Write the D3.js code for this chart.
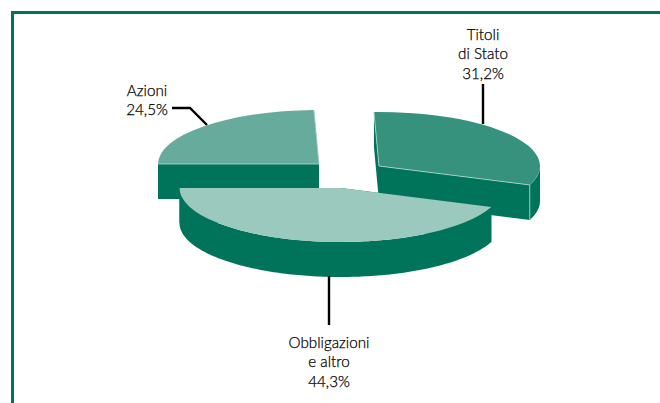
<!DOCTYPE html>
<html>
<head>
<meta charset="utf-8">
<script src="https://cdnjs.cloudflare.com/ajax/libs/d3/7.8.5/d3.min.js"></script>
<style>
	html, body { margin: 0; padding: 0; background: #fff; overflow: hidden; }
	svg { display: block; }
	text { font-family: Lato, sans-serif; font-size: 15.2px; font-weight: 300; fill: #000; stroke: #000; stroke-width: 0.25px; text-anchor: middle; }
</style>
</head>
<body>
<svg id="plot" width="660" height="403"></svg>
<script>
	// clockwise from the left edge of the pie
	var categories = ["Azioni", "Titoli di Stato", "Obbligazioni e altro"];
	var values = [24.5, 31.2, 44.3];
	var labelLines = [["Azioni", "24,5%"], ["Titoli", "di Stato", "31,2%"], ["Obbligazioni", "e altro", "44,3%"]];

	var topColors = ["#66ab9b", "#36917d", "#9cc9bd"];
	var sideColor = "#00745a";
	var edgeColor = "#b5d8cf";

	var w = 660, h = 403;
	var rx = 161, ry = 54, depth = 35;
	var centers = [[319, 164], [379, 166], [340.5, 188]];   // each slice is pulled out on its own

	var svg = d3.select("#plot");

	// frame, open on the right and at the bottom
	svg.append("path")
		.attr("d", "M12.5," + h + "V12.5H" + w)
		.attr("fill", "none")
		.attr("stroke", sideColor)
		.attr("stroke-width", 3);

	var pie = d3.pie().sort(null).startAngle(-Math.PI / 2).endAngle(1.5 * Math.PI);
	var arcs = pie(values);
	var arc = d3.arc().innerRadius(0).outerRadius(rx);

	function rimPoint(c, a){
		return [c[0] + rx * Math.sin(a), c[1] - ry * Math.cos(a)];
	}

	// outer wall, only the part that faces the viewer
	function rimPath(c, a0, a1){
		var from = Math.max(a0, Math.PI / 2), to = Math.min(a1, 1.5 * Math.PI);
		if( from >= to ){ return null; }
		var upper = d3.range(from, to, 0.02).concat([to]).map(function(a){ return rimPoint(c, a); });
		var lower = upper.map(function(p){ return [p[0], p[1] + depth]; }).reverse();
		return d3.line()(upper.concat(lower)) + "Z";
	}

	// cut face between the centre and the rim
	function facePath(c, a){
		var p = rimPoint(c, a);
		return d3.line()([c, p, [p[0], p[1] + depth], [c[0], c[1] + depth]]) + "Z";
	}

	var slices = svg.selectAll(".slice").data(arcs).enter()
		.append("g")
		.attr("class", "slice");

	slices.each(function(d, i){
		var g = d3.select(this), c = centers[i];
		[d.startAngle, d.endAngle].forEach(function(a){
			g.append("path").attr("d", facePath(c, a)).attr("fill", sideColor);
		});
		var rim = rimPath(c, d.startAngle, d.endAngle);
		if( rim ){
			g.append("path").attr("d", rim).attr("fill", sideColor);
		}
		// light line where the two walls of the corner meet
		if( i === 1 ){
			var p = rimPoint(c, d.endAngle);
			g.append("line")
				.attr("x1", p[0]).attr("y1", p[1])
				.attr("x2", p[0]).attr("y2", p[1] + depth)
				.attr("stroke", edgeColor).attr("stroke-width", 0.8);
		}
		g.append("path")
			.attr("d", arc(d))
			.attr("transform", "translate(" + c[0] + "," + c[1] + ") scale(1," + (ry / rx) + ")")
			.attr("fill", topColors[i]);
		// pale edge along the two cuts of the back slices
		if( i < 2 ){
			g.append("path")
				.attr("d", d3.line()([rimPoint(c, d.startAngle), c, rimPoint(c, d.endAngle)]))
				.attr("fill", "none")
				.attr("stroke", edgeColor)
				.attr("stroke-width", 0.8);
		}
	});

	// leader lines
	var leaders = [
		[[172, 108], [190, 108], [207, 125]],
		[[483, 84], [483, 124]],
		[[329, 276], [329, 325]]
	];
	svg.selectAll(".leader").data(leaders).enter()
		.append("path")
		.attr("class", "leader")
		.attr("d", d3.line())
		.attr("fill", "none")
		.attr("stroke", "#000")
		.attr("stroke-width", 2.4);

	// x of the text centre and baseline of the first line
	var labelPos = [[147, 96], [483, 40], [329, 348]];
	var lineStep = 19.3;
	svg.selectAll(".label").data(labelLines).enter()
		.append("text")
		.attr("class", "label")
		.each(function(lines, i){
			d3.select(this).selectAll("tspan").data(lines).enter()
				.append("tspan")
				.attr("x", labelPos[i][0])
				.attr("y", function(d, j){ return labelPos[i][1] + j * lineStep; })
				.text(function(d){ return d; });
		});
</script>
</body>
</html>
